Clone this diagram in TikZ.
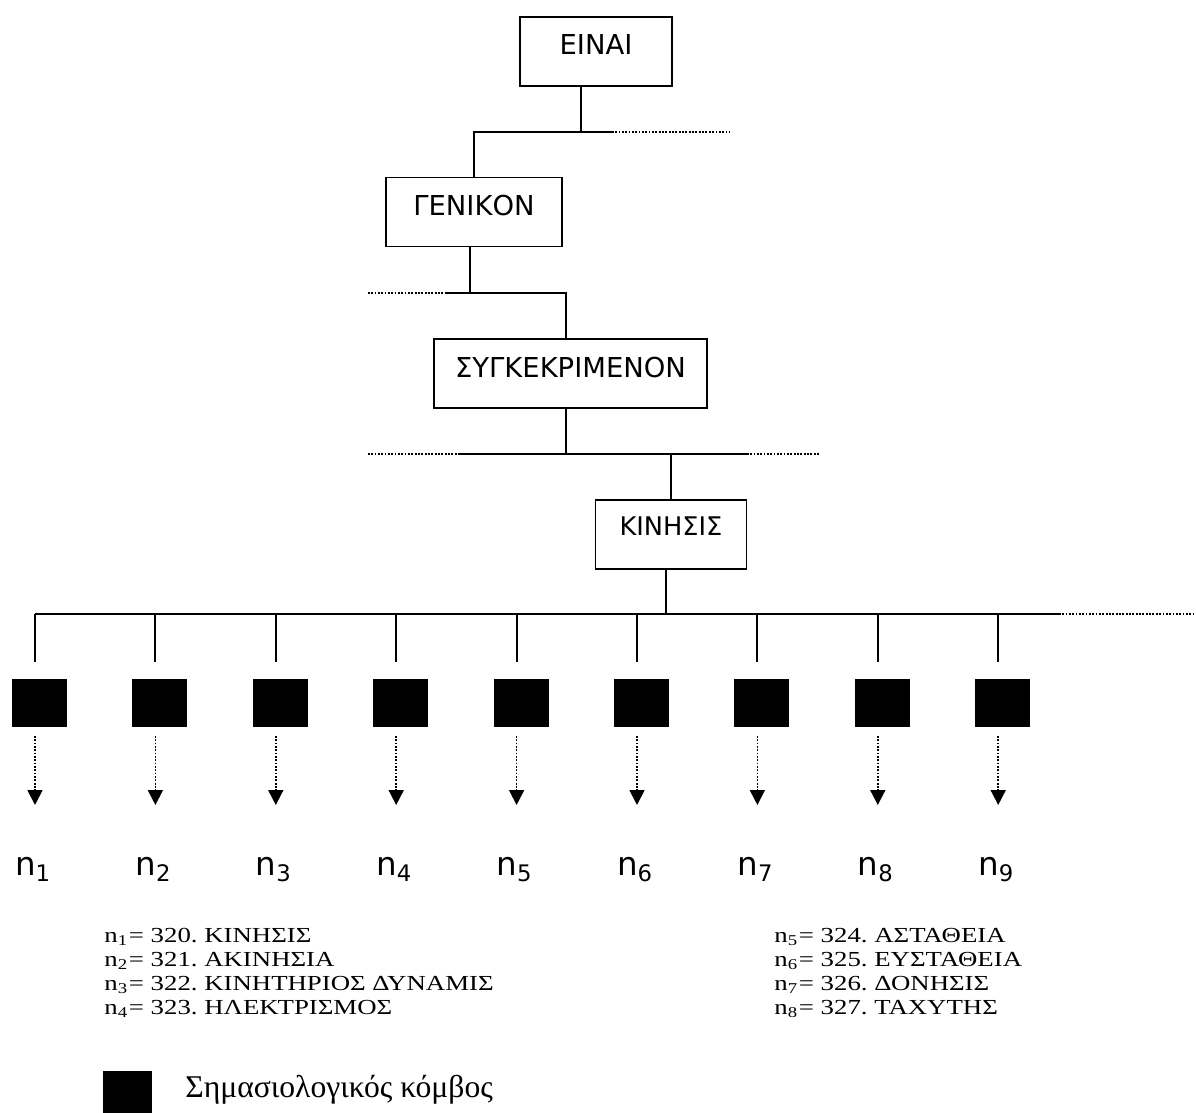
\documentclass[tikz,border=0pt]{standalone}
\usepackage{fontspec}
\setmainfont{Liberation Serif}
\newfontfamily\boxfont{DejaVu Sans}
\newfontfamily\legfont[FakeStretch=1.25]{Liberation Serif}
\usetikzlibrary{arrows.meta}
\frenchspacing

\tikzset{
    kasten/.style={draw, line width=1.1pt, inner sep=0pt, text height=7.6mm, text depth=6.2mm,
        font=\boxfont\fontsize{15.6}{18}\selectfont},
    knoten/.style={fill=black, inner sep=0pt, minimum width=11mm, minimum height=9.6mm},
    linie/.style={line width=1.1pt},
    punkte/.style={line width=1pt, dash pattern=on 1pt off 0.9pt},
    pfeil/.style={punkte, -{Triangle[width=3mm, length=3mm]}},
    nlabel/.style={anchor=base, inner sep=0pt, font=\boxfont\fontsize{18.5}{20}\selectfont},
    legende/.style={anchor=base west, inner sep=0pt, align=left, font=\legfont\fontsize{12.2}{13.6}\selectfont}
}

\begin{document}
\begin{tikzpicture}[x=0.2mm, y=-0.2mm]
        \useasboundingbox (0,0) rectangle (1196,1113);

        % zeichne Kaesten
        \node[kasten, minimum width=30.4mm] (einai) at (596,51.5) {ΕΙΝΑΙ};
        \node[kasten, minimum width=35.2mm] (genikon) at (474,212) {ΓΕΝΙΚΟΝ};
        \node[kasten, minimum width=54.6mm] (sygk) at (570.5,373.5) {ΣΥΓΚΕΚΡΙΜΕΝΟΝ};
        \node[kasten, minimum width=30.2mm, text height=7mm, text depth=6.8mm,
            font=\boxfont\fontsize{14.6}{17}\selectfont] (kinhsis) at (671,534.5) {ΚΙΝΗΣΙΣ};

        % Verbindungen ΕΙΝΑΙ -- ΓΕΝΙΚΟΝ
        \coordinate (b1) at (612,132);
        \coordinate (c1) at (730,132);
        \draw[linie] ([xshift=-3mm]einai.south) -- ([xshift=-3mm]einai.south |- b1);
        \draw[linie] (genikon.north) |- (b1);
        \draw[punkte] (b1) -- (c1);

        % Verbindungen ΓΕΝΙΚΟΝ -- ΣΥΓΚΕΚΡΙΜΕΝΟΝ
        \coordinate (a2) at (368,293);
        \coordinate (b2) at (445,293);
        \draw[linie] ([xshift=-0.8mm]genikon.south) -- ([xshift=-0.8mm]genikon.south |- b2);
        \draw[linie] (b2) -| ([xshift=-0.9mm]sygk.north);
        \draw[punkte] (a2) -- (b2);

        % Verbindungen ΣΥΓΚΕΚΡΙΜΕΝΟΝ -- ΚΙΝΗΣΙΣ
        \coordinate (a3) at (368,454);
        \coordinate (b3) at (460,454);
        \coordinate (c3) at (747,454);
        \coordinate (d3) at (820,454);
        \draw[linie] ([xshift=-0.9mm]sygk.south) -- ([xshift=-0.9mm]sygk.south |- b3);
        \draw[linie] (b3) -- (c3);
        \draw[linie] (kinhsis.north) -- (kinhsis.north |- b3);
        \draw[punkte] (a3) -- (b3);
        \draw[punkte] (c3) -- (d3);

        % Verbindungen ΚΙΝΗΣΙΣ -- Knoten
        \coordinate (a4) at (35,614);
        \coordinate (b4) at (1059,614);
        \coordinate (c4) at (1195,614);
        \draw[linie] ([xshift=-1mm]kinhsis.south) -- ([xshift=-1mm]kinhsis.south |- b4);
        \draw[linie] (a4) -- (b4);
        \draw[punkte] (b4) -- (c4);

        % zeichne Knoten n1 ... n9
        \foreach \i in {1,...,9} {
            \pgfmathsetmacro{\xx}{35+120.4*(\i-1)}
            \coordinate (o\i) at (\xx,614);
            \coordinate (u\i) at (\xx,662);
            \coordinate (p\i) at (\xx,736);
            \coordinate (q\i) at (\xx,805);
            \node[knoten] (k\i) at (\xx+4.5,703) {};
            \node[nlabel] (n\i) at (\xx-2,875) {n\textsubscript{\i}};
            \draw[linie] (o\i) -- (u\i);
            \draw[pfeil] (p\i) -- (q\i);
        }

        % Legende
        \node[legende] (lgl) at (104,1014) {n\textsubscript{1}\kern0.5pt= 320. ΚΙΝΗΣΙΣ\\
            n\textsubscript{2}\kern0.5pt= 321. ΑΚΙΝΗΣΙΑ\\
            n\textsubscript{3}\kern0.5pt= 322. ΚΙΝΗΤΗΡΙΟΣ ΔΥΝΑΜΙΣ\\
            n\textsubscript{4}\kern0.5pt= 323. ΗΛΕΚΤΡΙΣΜΟΣ};
        \node[legende] (lgr) at (774,1014) {n\textsubscript{5}\kern0.5pt= 324. ΑΣΤΑΘΕΙΑ\\
            n\textsubscript{6}\kern0.5pt= 325. ΕΥΣΤΑΘΕΙΑ\\
            n\textsubscript{7}\kern0.5pt= 326. ΔΟΝΗΣΙΣ\\
            n\textsubscript{8}\kern0.5pt= 327. ΤΑΧΥΤΗΣ};
        \node[knoten, anchor=north west, minimum width=9.8mm, minimum height=8.4mm] (lgk) at (103,1071) {};
        \node[anchor=base west, inner sep=0pt, font=\fontsize{18}{20}\selectfont] (lgt) at (185,1097) {Σημασιολογικός κόμβος};
\end{tikzpicture}
\end{document}
